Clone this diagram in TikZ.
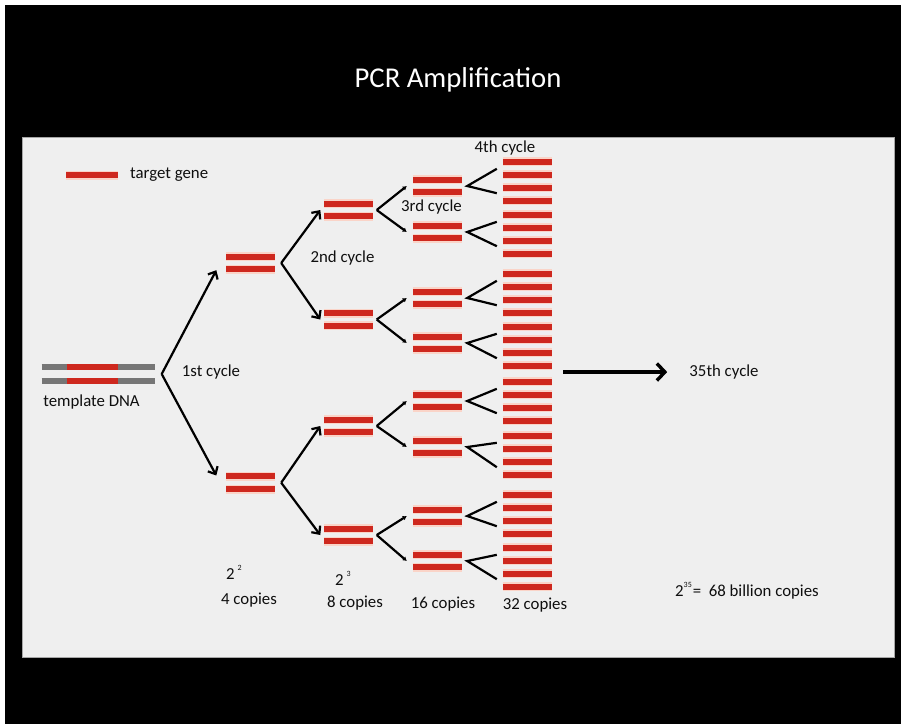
\documentclass[tikz,border=0pt]{standalone}
\usepackage{fontspec}
\setmainfont{Carlito}
\usetikzlibrary{arrows.meta}
\definecolor{gene}{RGB}{206,40,30}
\definecolor{halo}{RGB}{250,212,200}
\definecolor{strand}{RGB}{118,118,118}
\definecolor{panel}{RGB}{239,239,239}
\definecolor{ink}{RGB}{15,15,15}
\tikzset{
  genebar/.style={line width=6pt, draw=gene, preaction={draw=halo, line width=9pt}},
  strandbar/.style={line width=6pt, draw=strand},
  pairbox/.style={inner sep=0pt, minimum width=48pt, minimum height=14pt},
  quadbox/.style={inner sep=0pt, minimum width=49pt, minimum height=24pt},
  lbl/.style={inner sep=0pt, text=ink, font=\fontsize{16.8}{18}\selectfont},
  arr/.style={line width=2.2pt, -{Straight Barb[length=6pt,width=11pt,line width=2.2pt]}},
  smallarr/.style={line width=2.2pt, -{Latex[length=4pt,width=5pt]}},
  fork/.style={line width=2.2pt},
  bigarr/.style={line width=3.4pt, -{Straight Barb[length=8pt,width=17pt,line width=3.4pt]}}
}
\newcommand{\genepair}[1]{
    \draw[genebar] ([yshift=6.3pt]#1.west) -- ([yshift=6.3pt]#1.east);
    \draw[genebar] ([yshift=-6.3pt]#1.west) -- ([yshift=-6.3pt]#1.east);
}
\newcommand{\genequad}[1]{
    \foreach \dy in {19.5,6.5,-6.5,-19.5}{
        \draw[genebar] ([yshift=\dy pt]#1.west) -- ([yshift=\dy pt]#1.east);
    }
}
\newcommand{\supnum}[1]{\raisebox{9pt}{\fontsize{8}{8}\selectfont #1}}
\begin{document}
\begin{tikzpicture}[x=1pt, y=-1pt]
    \useasboundingbox (0,0) rectangle (901,724);
    \fill[white] (0,0) rectangle (901,724);
    \fill[black] (5,5) rectangle (901,724);
    \filldraw[fill=panel, draw=gray!70, line width=0.8pt] (22,137) rectangle (894,657);

    % title
    \node[text=white, font=\fontsize{28.7}{32}\selectfont] (title) at (458,80) {PCR Amplification};

    % legend
    \node[pairbox, minimum width=51pt, minimum height=6pt] (leg) at (92,175) {};
    \draw[genebar] (leg.west) -- (leg.east);
    \node[lbl, anchor=west] (legtext) at (130,175) {target gene};

    % template DNA
    \node[inner sep=0pt, minimum width=113pt, minimum height=14pt] (tdna) at (98.3,374) {};
    \draw[strandbar] ([yshift=7.2pt]tdna.west) -- ([yshift=7.2pt]tdna.east);
    \draw[strandbar] ([yshift=-7.2pt]tdna.west) -- ([yshift=-7.2pt]tdna.east);
    \draw[line width=6pt, draw=gene] ([xshift=25pt,yshift=7.2pt]tdna.west) -- ([xshift=76pt,yshift=7.2pt]tdna.west);
    \draw[line width=6pt, draw=gene] ([xshift=25pt,yshift=-7.2pt]tdna.west) -- ([xshift=76pt,yshift=-7.2pt]tdna.west);
    \node[lbl] (tdnatext) at (91.5,402) {template DNA};

    % copies after each cycle
    \node[pairbox] (a1) at (250.5,263) {};
    \node[pairbox] (a2) at (250.5,482.7) {};
    \foreach \n/\y in {1/210,2/319.5,3/426,4/535}
        \node[pairbox] (b\n) at (348.5,\y) {};
    \foreach \n/\y in {1/186,2/232,3/298,4/343,5/401,6/447,7/516,8/561}
        \node[pairbox, minimum width=49pt] (c\n) at (437.5,\y) {};
    \foreach \n/\y in {1/181,2/234,3/293,4/346,5/401,6/455,7/514,8/567}
        \node[quadbox] (q\n) at (527.5,\y) {};

    \foreach \p in {a1,a2,b1,b2,b3,b4,c1,c2,c3,c4,c5,c6,c7,c8}{
        \genepair{\p}
    }
    \foreach \p in {q1,q2,q3,q4,q5,q6,q7,q8}{
        \genequad{\p}
    }

    % branches
    \draw[arr] ([xshift=6.7pt]tdna.east) -- ([xshift=-10pt]a1.south west);
    \draw[arr] ([xshift=6.7pt]tdna.east) -- ([xshift=-10pt]a2.north west);
    \foreach \s/\t in {a1/b1,a1/b2,a2/b3,a2/b4}
        \draw[arr] ([xshift=6.5pt]\s.east) -- ([xshift=-4pt]\t.west);
    \foreach \s/\t in {b1/c1,b1/c2,b2/c3,b2/c4,b3/c5,b3/c6,b4/c7,b4/c8}
        \draw[smallarr] ([xshift=4pt]\s.east) -- ([xshift=-6pt]\t.west);
    \foreach \i in {1,...,8}
        \draw[fork] ([xshift=-6pt]q\i.north west) -- ([xshift=5pt]c\i.east) -- ([xshift=-6pt]q\i.south west);

    % cycle labels
    \node[lbl] (cyc1) at (211,372) {1st cycle};
    \node[lbl] (cyc2) at (342.5,258) {2nd cycle};
    \node[lbl] (cyc3) at (431.5,207) {3rd cycle};
    \node[lbl] (cyc4) at (505,148) {4th cycle};
    \node[lbl] (cyc35) at (724,372) {35th cycle};
    \draw[bigarr, shorten <=11pt] (q4.east |- cyc35.west) -- ++(115,0);

    % counts
    \node[lbl, anchor=west] (exp4) at (226,572) {2\hspace{3pt}\supnum{2}};
    \node[lbl] (cp4) at (249,600) {4 copies};
    \node[lbl, anchor=west] (exp8) at (335,578) {2\hspace{3pt}\supnum{3}};
    \node[lbl] (cp8) at (355,603) {8 copies};
    \node[lbl] (cp16) at (443,604) {16 copies};
    \node[lbl] (cp32) at (535,605) {32 copies};
    \node[lbl, anchor=west] (cp35) at (675,591) {2\supnum{35}\hspace{1pt}= \ 68 billion copies};
\end{tikzpicture}
\end{document}
